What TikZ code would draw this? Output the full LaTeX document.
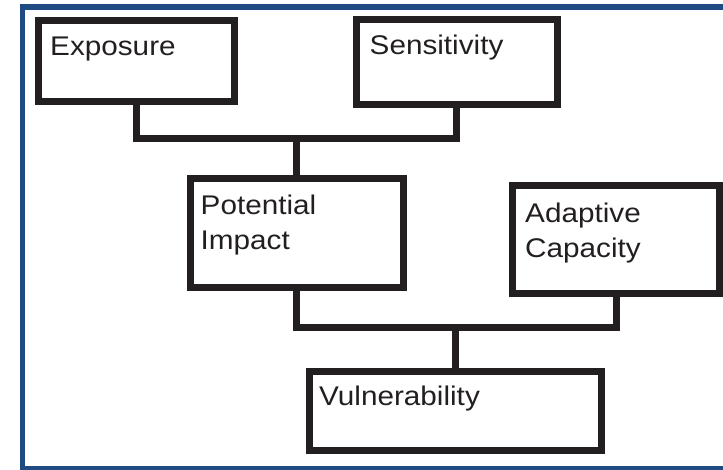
\documentclass[tikz,border=0pt]{standalone}
\usepackage{fontspec}
\newfontfamily\boxfont[FakeStretch=1.1]{Liberation Sans}
\usepackage{tikz}
\usetikzlibrary{positioning}
\definecolor{framecol}{RGB}{31,75,130}
\definecolor{inkcol}{RGB}{35,31,32}

\begin{document}
\begin{tikzpicture}[x=1pt, y=-1pt,
    box/.style={draw=inkcol, line width=7pt, inner sep=0pt, outer sep=0pt, anchor=north west},
    boxtext/.style={anchor=base west, inner sep=0pt, text=inkcol, font=\boxfont\fontsize{27}{35}\selectfont},
    link/.style={draw=inkcol, line width=7pt}]
    \path[use as bounding box, clip] (0,0) rectangle (723,470);
    % Rahmen
    \draw[framecol, line width=5.5pt] (22.5,7) rectangle (760,468.5);

    % obere Reihe
    \node[box, minimum width=195.5pt, minimum height=81.5pt] (expo) at (38.5,20.5) {};
    \node[boxtext] (expo-text) at ([xshift=11.5pt, yshift=-35pt]expo.north west) {Exposure};
    \node[box, minimum width=200.5pt, minimum height=85pt] (sens) at (356.5,20) {};
    \node[boxtext] (sens-text) at ([xshift=13pt, yshift=-35pt]sens.north west) {Sensitivity};

    % mittlere Reihe
    \node[box, minimum width=213pt, minimum height=109pt] (pot) at (190,179) {};
    \node[boxtext] (pot-text) at ([xshift=10.5pt, yshift=-36pt]pot.north west) {\parbox[t]{180pt}{Potential\\Impact}};
    \node[box, minimum width=207pt, minimum height=108pt] (adap) at (512.5,185.5) {};
    \node[boxtext] (adap-text) at ([xshift=12.5pt, yshift=-37pt]adap.north west) {\parbox[t]{180pt}{Adaptive\\Capacity}};

    % untere Reihe
    \node[box, minimum width=292pt, minimum height=78.5pt] (vuln) at (309.5,371.5) {};
    \node[boxtext] (vuln-text) at ([xshift=9.5pt, yshift=-34pt]vuln.north west) {Vulnerability};

    % Verbindungen
    \draw[link] (pot.north) -- ++(0,-40.5) coordinate (top-join);
    \draw[link] (expo.south) |- (top-join) -| (sens.south);
    \draw[link] (vuln.north) -- ++(0,-43.5) coordinate (bot-join);
    \draw[link] (pot.south) |- (bot-join) -| (adap.south);
\end{tikzpicture}
\end{document}
